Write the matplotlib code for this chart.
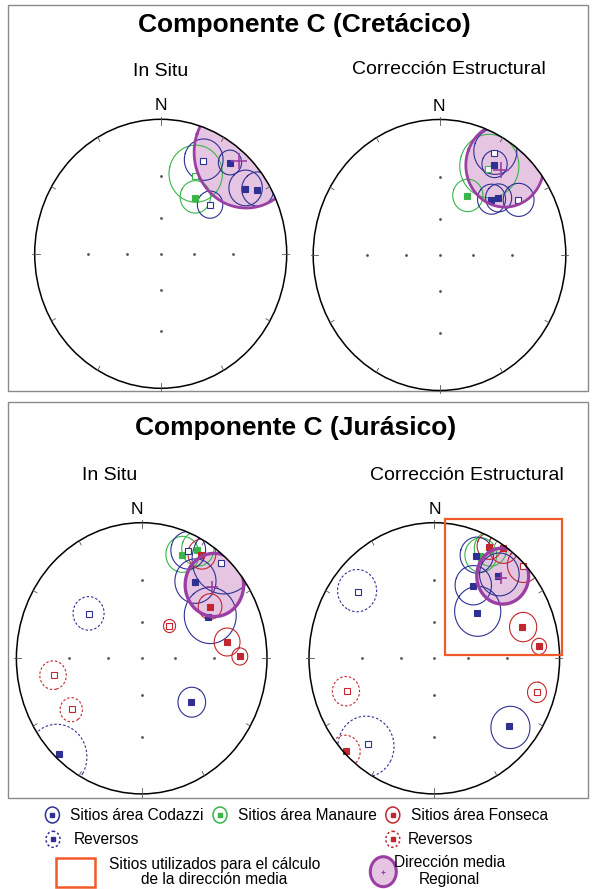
import numpy as np
import matplotlib.pyplot as plt
from matplotlib.patches import Circle, Ellipse, Rectangle

plt.rcParams['font.family'] = ['Liberation Sans', 'DejaVu Sans']

W, H = 592, 889

colors = {"codazzi": "#2e3192", "manaure": "#39b54a", "fonseca": "#c1272d"}
purple = "#9b3fa5"
pink = "#e6c5e2"
orange = "#f15a29"

# site rows: (area, declination, inclination, a95, reversed)
cret_insitu = [
    ("manaure", 25, -25, 17, False),
    ("manaure", 33, 37, 11, False),
    ("codazzi", 26, -15, 11, False),
    ("codazzi", 39, 8, 6, False),
    ("codazzi", 54, 11, 9, False),
    ("codazzi", 58, 6, 8, False),
    ("codazzi", 47, -34, 9, False),
]
cret_insitu_mean = (42, 4, 24)

cret_tilt = [
    ("manaure", 31, -17, 17, False),
    ("manaure", 27, 38, 11, False),
    ("codazzi", 30, -8, 11, False),
    ("codazzi", 33, 13, 7, False),
    ("codazzi", 45, 30, 9.5, False),
    ("codazzi", 48, 26, 8.5, False),
    ("codazzi", 57, -17, 9, False),
]
cret_tilt_mean = (38, 13, 21)

jur_insitu = [
    ("manaure", 23, 11, 9, False),
    ("manaure", 29, 5, 8, False),
    ("codazzi", 25, -8, 9, False),
    ("fonseca", 32, 6, 7, False),
    ("codazzi", 42, -3, 15, False),
    ("codazzi", 37, 20, 12.5, False),
    ("fonseca", 55, 23, 7.5, False),
    ("codazzi", 60, 27, 17, False),
    ("fonseca", 43, -54, 5, False),
    ("fonseca", 80, 21, 8, False),
    ("fonseca", 89, 14, 4.5, False),
    ("codazzi", 129, 36, 10, False),
    ("codazzi", 308, -34, 11, True),
    ("fonseca", 260, -19, 8, True),
    ("fonseca", 236, -22, 7, True),
    ("codazzi", 223, 2, 14, True),
]
jur_insitu_mean = (47, 15, 16.5)

jur_tilt = [
    ("manaure", 26, 10, 8.5, False),
    ("manaure", 29, 5, 8, False),
    ("codazzi", 24, 11, 9, False),
    ("fonseca", 28, 4, 6, False),
    ("fonseca", 34, 1, 7, False),
    ("fonseca", 46, -1, 7.5, False),
    ("codazzi", 40, 13, 11, False),
    ("codazzi", 30, 27, 12, False),
    ("codazzi", 45, 39, 17, False),
    ("fonseca", 72, 17, 8, False),
    ("fonseca", 84, 10, 4, False),
    ("fonseca", 107, -9, 5, False),
    ("codazzi", 130, 14, 11, False),
    ("codazzi", 309, -14, 11, True),
    ("fonseca", 251, -17, 8, True),
    ("codazzi", 220, -11, 15, True),
    ("fonseca", 226, 1, 7, True),
]
jur_tilt_mean = (42, 13, 14.3)


def to_xyz(dec, inc):
    d, i = np.radians(dec), np.radians(abs(inc))
    return np.array([np.cos(i) * np.cos(d), np.cos(i) * np.sin(d), np.sin(i)])


def stereo(v):
    # equal-angle (Wulff) projection, lower hemisphere
    n, e, dn = v
    return e / (1 + dn), n / (1 + dn)


def cone(dec, inc, a95, n=200):
    v = to_xyz(dec, inc)
    ref = np.array([0, 0, 1.0]) if abs(v[2]) < 0.9 else np.array([1.0, 0, 0])
    u1 = np.cross(v, ref)
    u1 /= np.linalg.norm(u1)
    u2 = np.cross(v, u1)
    t = np.linspace(0, 2 * np.pi, n)
    a = np.radians(a95)
    pts = np.cos(a) * v[:, None] + np.sin(a) * (np.cos(t) * u1[:, None] + np.sin(t) * u2[:, None])
    return stereo(pts)


fig = plt.figure(figsize=(W / 100, H / 100), dpi=100)

bg = fig.add_axes([0, 0, 1, 1])
bg.set_xlim(0, W)
bg.set_ylim(H, 0)
bg.axis('off')


def stereonet(cx, cy, rx, ry):
    ax = fig.add_axes([(cx - rx) / W, 1 - (cy + ry) / H, 2 * rx / W, 2 * ry / H])
    ax.set_xlim(-1, 1)
    ax.set_ylim(-1, 1)
    ax.axis('off')
    prim = Circle((0, 0), 1, fill=False, ec='black', lw=1.1, zorder=7, clip_on=False)
    ax.add_patch(prim)
    for az in range(0, 360, 30):
        s, c = np.sin(np.radians(az)), np.cos(np.radians(az))
        r0, r1 = (0.96, 1.02) if az % 90 == 0 else (0.965, 1.0)
        ax.plot([r0 * s, r1 * s], [r0 * c, r1 * c], color='#555555', lw=0.6, clip_on=False, zorder=7)
    ring = [np.tan(np.radians(15)), np.tan(np.radians(30))]
    dx = [0] + ring + [-r for r in ring] + [0] * 4
    dy = [0] * 5 + ring + [-r for r in ring]
    ax.plot(dx, dy, 'o', ms=1.0, color='#555555', zorder=2)
    return ax, prim


def draw_sites(ax, prim, sites, mean, big):
    x, y = cone(*mean)
    ax.fill(x, y, color=pink, zorder=1, clip_path=prim, lw=0)
    for area, dec, inc, a95, rev in sites:
        col = colors[area]
        cxs, cys = cone(dec, inc, a95)
        ax.plot(cxs, cys, color=col, lw=0.8, ls=(0, (2.2, 1.8)) if rev else '-',
                clip_path=prim, zorder=3)
        px, py = stereo(to_xyz(dec, inc))
        ax.plot(px, py, 's', ms=4.6, mfc=col if inc >= 0 else 'white', mec=col,
                mew=0.8, zorder=4)
    ax.plot(x, y, color=purple, lw=2.0 if big else 2.4, clip_path=prim, zorder=5)
    mx, my = stereo(to_xyz(mean[0], mean[1]))
    ax.plot(mx, my, '+', color=purple, ms=11 if big else 8, mew=1.2, zorder=6)


ax1, p1 = stereonet(160.7, 253.8, 126, 134.5)
draw_sites(ax1, p1, cret_insitu, cret_insitu_mean, True)
ax2, p2 = stereonet(439.5, 255, 126.3, 135.5)
draw_sites(ax2, p2, cret_tilt, cret_tilt_mean, True)
ax3, p3 = stereonet(141.7, 658.3, 125.3, 135.6)
draw_sites(ax3, p3, jur_insitu, jur_insitu_mean, False)
ax4, p4 = stereonet(434.3, 658.3, 125.3, 135.6)
draw_sites(ax4, p4, jur_tilt, jur_tilt_mean, False)

# box around the sites used for the regional mean
ax4.add_patch(Rectangle((0.085, 0.024), 0.935, 1.003, fill=False, ec=orange, lw=1.6,
                        clip_on=False, zorder=8))

# panel frames and labels
bg.add_patch(Rectangle((8.3, 4.7), 579.2, 386, fill=False, ec='#8a8a8a', lw=1.0))
bg.add_patch(Rectangle((8.3, 402), 579.2, 395.7, fill=False, ec='#8a8a8a', lw=1.0))

bg.text(304, 25, "Componente C (Cretácico)", ha='center', va='center', fontsize=19, fontweight='bold')
bg.text(296, 428, "Componente C (Jurásico)", ha='center', va='center', fontsize=19, fontweight='bold')

bg.text(161, 71, "In Situ", ha='center', va='center', fontsize=14)
bg.text(449, 70, "Corrección Estructural", ha='center', va='center', fontsize=14)
bg.text(110, 476, "In Situ", ha='center', va='center', fontsize=14)
bg.text(467, 476, "Corrección Estructural", ha='center', va='center', fontsize=14)

for nx, ny in [(160.5, 105.5), (439, 106.5), (137, 510), (435, 510)]:
    bg.text(nx, ny, "N", ha='center', va='center', fontsize=12.5)

# legend
def legend_symbol(x, y, col, dashed):
    bg.add_patch(Ellipse((x, y), 14, 16, fill=False, ec=col, lw=1.1,
                         ls=(0, (1.5, 1.5)) if dashed else '-'))
    bg.plot(x, y, 's', ms=3.2, color=col)

fs = 11.2
legend_symbol(52.4, 815, colors["codazzi"], False)
bg.text(70, 815, "Sitios área Codazzi", va='center', fontsize=fs)
legend_symbol(220, 815, colors["manaure"], False)
bg.text(237.7, 815, "Sitios área Manaure", va='center', fontsize=fs)
legend_symbol(392.8, 815, colors["fonseca"], False)
bg.text(410.6, 815, "Sitios área Fonseca", va='center', fontsize=fs)
legend_symbol(53, 839.3, colors["codazzi"], True)
bg.text(74, 839.3, "Reversos", va='center', fontsize=fs)
legend_symbol(392.8, 839.3, colors["fonseca"], True)
bg.text(408, 839.3, "Reversos", va='center', fontsize=fs)

bg.add_patch(Rectangle((56.2, 858.3), 38.7, 29, fill=False, ec=orange, lw=1.8))
bg.text(214.4, 864, "Sitios utilizados para el cálculo", ha='center', va='center', fontsize=fs)
bg.text(214.4, 880, "de la dirección media", ha='center', va='center', fontsize=fs)

bg.add_patch(Ellipse((383.3, 871.7), 26, 30, fc=pink, ec=purple, lw=2.2))
bg.plot(383.3, 871.7, '+', color=purple, ms=3, mew=0.8)
bg.text(449.7, 862.7, "Dirección media", ha='center', va='center', fontsize=fs)
bg.text(449.7, 879.3, "Regional", ha='center', va='center', fontsize=fs)

fig.savefig("out.png", dpi=100)
